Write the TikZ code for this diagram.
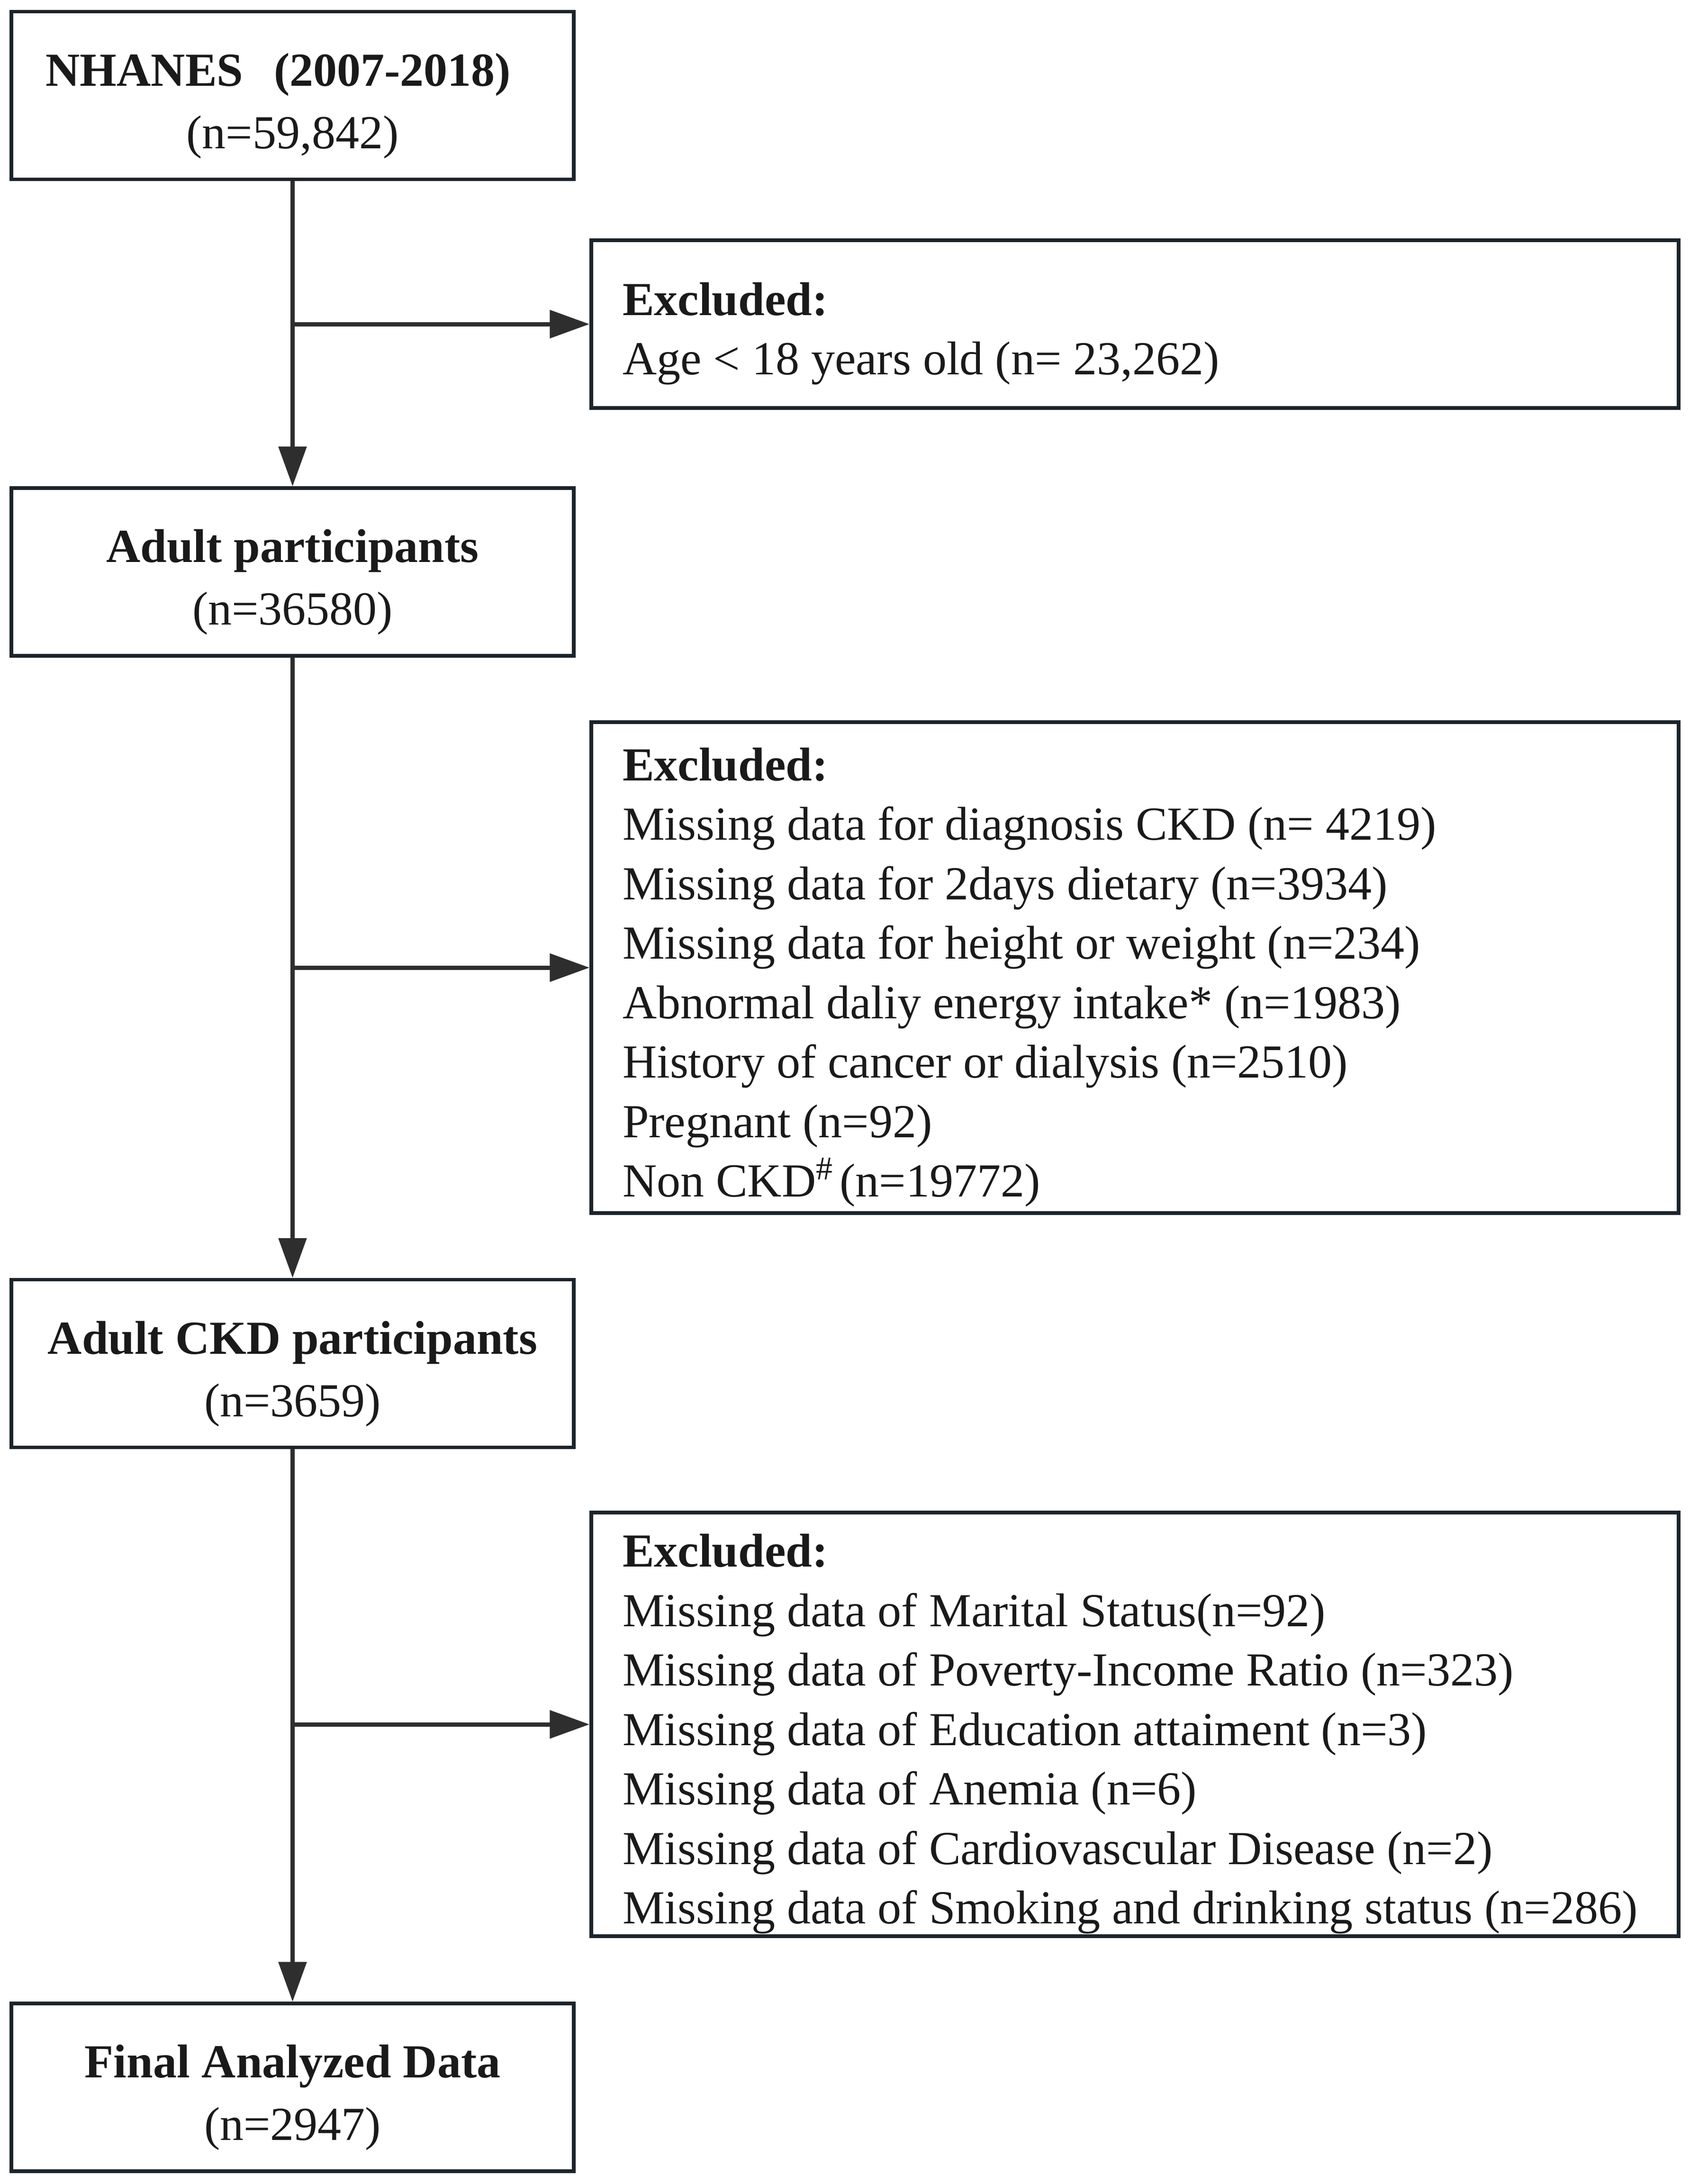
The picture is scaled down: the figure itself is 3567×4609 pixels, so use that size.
\documentclass[tikz,border=0pt]{standalone}
\usepackage{fontspec}
\setmainfont{Liberation Serif}
\usetikzlibrary{arrows.meta}
\definecolor{boxcol}{RGB}{28,36,43}
\definecolor{arrcol}{RGB}{46,46,46}
\definecolor{txtcol}{RGB}{26,26,26}
\newcommand{\mainstrut}{\rule{0pt}{11.3pt}}
\newcommand{\exclstrut}{\rule{0pt}{11.0pt}}
\begin{document}
\begin{tikzpicture}[x=0.1pt,y=-0.1pt,
  mainbox/.style={draw=boxcol, line width=0.75pt, minimum width=118.7pt,
    minimum height=35.4pt, text width=118.7pt, align=flush center, inner sep=0pt,
    text=txtcol, font=\fontsize{10pt}{13.2pt}\selectfont},
  exclbox/.style={draw=boxcol, line width=0.75pt, minimum height=#1,
    text width=216.3pt, inner xsep=6.6pt, inner ysep=0pt, align=flush left,
    text=txtcol, font=\fontsize{10pt}{12.55pt}\selectfont},
  flow/.style={draw=arrcol, line width=0.9pt,
    -{Triangle[length=8.4pt,width=5.8pt]}},
  branch/.style={flow, line cap=round}]
\useasboundingbox[fill=white] (0,0) rectangle (3567,4609);

\node[mainbox] (b1) at (617.5,201.5)
  {\mainstrut\textbf{NHANES\hspace{0.65em}(2007-2018)\kern0.6em}\\(n=59,842)};
\node[mainbox] (b2) at (617.5,1207)
  {\mainstrut\textbf{Adult participants}\\(n=36580)};
\node[mainbox] (b3) at (617.5,2877.5)
  {\mainstrut\textbf{Adult CKD participants}\\(n=3659)};
\node[mainbox] (b4) at (617.5,4405)
  {\mainstrut\textbf{Final Analyzed Data}\\(n=2947)};

\node[exclbox=35.4pt] (e1) at (2395.5,684)
  {\exclstrut\textbf{Excluded:}\\
   Age < 18 years old (n= 23,262)};
\node[exclbox=103.6pt] (e2) at (2395.5,2042)
  {\exclstrut\textbf{Excluded:}\\
   Missing data for diagnosis CKD (n= 4219)\\
   Missing data for 2days dietary (n=3934)\\
   Missing data for height or weight (n=234)\\
   Abnormal daliy energy intake* (n=1983)\\
   History of cancer or dialysis (n=2510)\\
   Pregnant (n=92)\\
   Non CKD\textsuperscript{\#}\hspace{0.1em}(n=19772)};
\node[exclbox=89.4pt] (e3) at (2395.5,3639)
  {\exclstrut\textbf{Excluded:}\\
   Missing data of Marital Status(n=92)\\
   Missing data of Poverty-Income Ratio (n=323)\\
   Missing data of Education attaiment (n=3)\\
   Missing data of Anemia (n=6)\\
   Missing data of Cardiovascular Disease (n=2)\\
   Missing data of Smoking and drinking status (n=286)};

\coordinate (j1) at (b1.south |- e1.west);
\coordinate (j2) at (b2.south |- e2.west);
\coordinate (j3) at (b3.south |- e3.west);

\draw[flow] (b1.south) -- (b2.north);
\draw[flow] (b2.south) -- (b3.north);
\draw[flow] (b3.south) -- (b4.north);
\draw[branch] (j1) -- (e1.west);
\draw[branch] (j2) -- (e2.west);
\draw[branch] (j3) -- (e3.west);
\end{tikzpicture}
\end{document}
